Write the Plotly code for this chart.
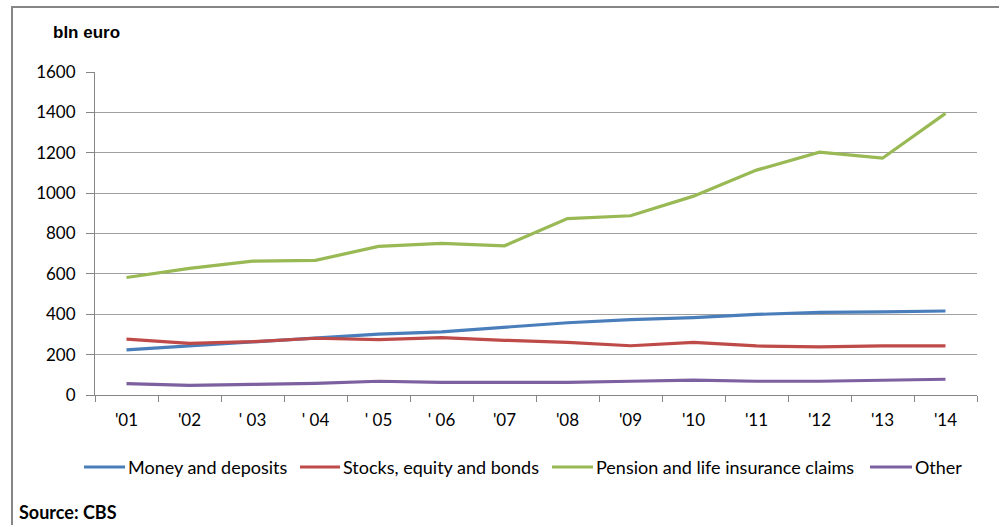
import plotly.graph_objects as go

years = ["'01", "'02", "' 03", "' 04", "' 05", "' 06", "'07", "'08", "'09", "'10", "'11", "'12", "'13", "'14"]
money = [224, 244, 264, 284, 302, 313, 335, 358, 373, 383, 399, 409, 412, 416]
stocks = [277, 256, 264, 281, 274, 284, 271, 261, 244, 261, 243, 238, 243, 243]
pension = [582, 627, 663, 667, 736, 751, 739, 874, 888, 985, 1114, 1203, 1173, 1395]
other = [56, 48, 53, 58, 68, 63, 63, 63, 68, 74, 68, 68, 73, 78]

series = [
    ("Money and deposits", money, "#4A7EBB"),
    ("Stocks, equity and bonds", stocks, "#BE4B48"),
    ("Pension and life insurance claims", pension, "#98B954"),
    ("Other", other, "#7D60A0"),
]

FONT = "Lato"

fig = go.Figure()
for name, vals, col in series:
    fig.add_trace(go.Scatter(x=years, y=vals, name=name, mode="lines",
                             line=dict(color=col, width=3.2), showlegend=False))

L, R, T, B = 95, 22, 72, 130
W, H = 999, 525
pw = W - L - R
ph = H - T - B

def px(x):
    return (x - L) / pw

def py(y):
    return (H - B - y) / ph

shapes = [dict(type="rect", xref="paper", yref="paper",
               x0=px(12), x1=px(1010), y0=py(540), y1=py(7),
               line=dict(color="#868686", width=2), fillcolor="rgba(0,0,0,0)", layer="below")]
annotations = [
    dict(text="<b>bln euro</b>", xref="paper", yref="paper", x=px(51), y=py(33),
         xanchor="left", yanchor="middle", showarrow=False,
         font=dict(family="Liberation Sans", size=17)),
    dict(text="<b>Source: CBS</b>", xref="paper", yref="paper", x=px(17), y=py(512),
         xanchor="left", yanchor="middle", showarrow=False,
         font=dict(family=FONT, size=18)),
]

# legend (manual, Excel-style long line keys)
leg_y = 467
leg_keys = [(84, 125), (300, 340), (552, 593), (870, 912)]
for (name, _, col), (a, b) in zip(series, leg_keys):
    shapes.append(dict(type="line", xref="paper", yref="paper",
                       x0=px(a), x1=px(b), y0=py(leg_y), y1=py(leg_y),
                       line=dict(color=col, width=3.2)))
    annotations.append(dict(text=name, xref="paper", yref="paper", x=px(b + 1), y=py(leg_y),
                            xanchor="left", yanchor="middle", showarrow=False,
                            font=dict(family=FONT, size=18)))

fig.update_layout(
    width=W, height=H,
    margin=dict(l=L, r=R, t=T, b=B),
    paper_bgcolor="white", plot_bgcolor="white",
    font=dict(family=FONT, size=17, color="#000000"),
    showlegend=False,
    xaxis=dict(type="category", range=[-0.5, 13.5], showgrid=False,
               showline=True, linecolor="#868686", linewidth=1,
               ticks="outside", tickson="boundaries", ticklen=6, tickcolor="#868686",
               tickfont=dict(family=FONT, size=17), ticklabelstandoff=10, fixedrange=True),
    yaxis=dict(range=[0, 1600], dtick=200, showgrid=True, gridcolor="#A0A0A0", gridwidth=1,
               showline=True, linecolor="#868686", linewidth=1,
               ticks="outside", ticklen=8, tickcolor="#868686",
               tickfont=dict(family=FONT, size=17), ticklabelstandoff=7, zeroline=False),
    shapes=shapes,
    annotations=annotations,
)

fig.write_html("out.html", config={"displayModeBar": False},
               post_script="document.body.style.margin='0';")
